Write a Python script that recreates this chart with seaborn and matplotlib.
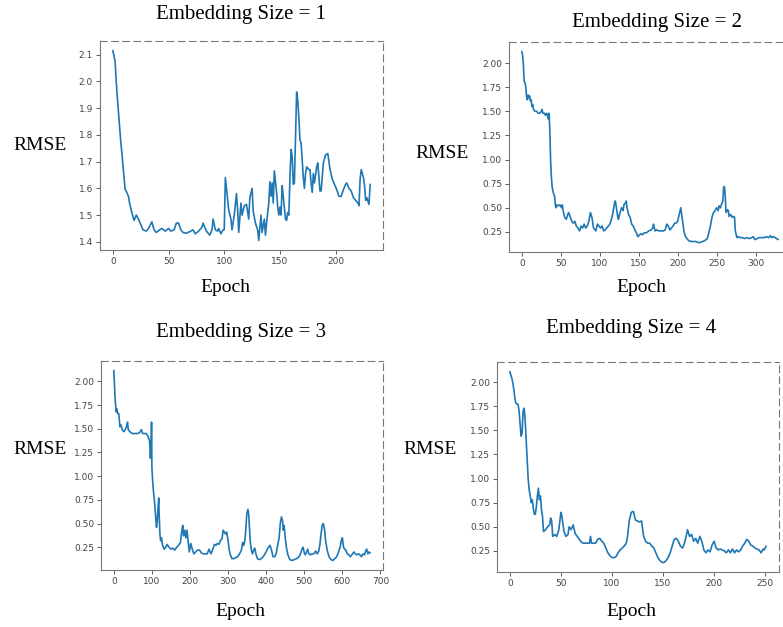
import matplotlib
matplotlib.use("Agg")
import matplotlib.pyplot as plt
import seaborn as sns
import pandas as pd

# ---------------- data ----------------
titles = ["Embedding Size = 1", "Embedding Size = 2", "Embedding Size = 3", "Embedding Size = 4"]

e1_epoch = [0, 2, 3, 4, 6, 7, 9, 10, 11, 12, 14, 15, 17, 19, 20, 21, 23, 25, 27, 30, 32, 35, 37, 39, 42, 44,
            47, 50, 52, 55, 57, 59, 61, 63, 66, 70, 72, 74, 77, 80, 81, 84, 87, 89, 90, 92, 94, 95, 97, 99,
            100, 101, 102, 104, 106, 107, 109, 111, 112, 113, 115, 116, 118, 120, 122, 123, 125, 126, 128,
            130, 131, 132, 133, 134, 136, 137, 138, 140, 141, 142, 143, 144, 145, 147, 148, 149, 150, 151,
            152, 153, 155, 156, 157, 158, 159, 160, 161, 162, 163, 164, 165, 166, 167, 168, 169, 170, 171,
            172, 173, 174, 176, 177, 178, 179, 180, 181, 183, 184, 186, 187, 189, 191, 193, 195, 197, 199,
            201, 203, 205, 207, 209, 210, 212, 214, 216, 218, 220, 221, 222, 223, 225, 226, 227, 228, 230, 231]
e1_rmse = [2.115, 2.075, 2.0, 1.94, 1.83, 1.78, 1.69, 1.64, 1.595, 1.59, 1.57, 1.545, 1.51, 1.48, 1.49, 1.50,
           1.485, 1.465, 1.445, 1.44, 1.45, 1.475, 1.445, 1.435, 1.445, 1.45, 1.44, 1.45, 1.44, 1.445, 1.47,
           1.47, 1.445, 1.435, 1.432, 1.44, 1.445, 1.43, 1.44, 1.455, 1.47, 1.44, 1.425, 1.445, 1.485, 1.445,
           1.44, 1.45, 1.43, 1.445, 1.445, 1.64, 1.60, 1.52, 1.485, 1.445, 1.50, 1.58, 1.52, 1.435, 1.545,
           1.50, 1.535, 1.54, 1.485, 1.565, 1.60, 1.515, 1.47, 1.445, 1.405, 1.455, 1.50, 1.435, 1.485,
           1.425, 1.47, 1.545, 1.625, 1.57, 1.62, 1.545, 1.665, 1.585, 1.53, 1.50, 1.53, 1.50, 1.61, 1.57,
           1.485, 1.48, 1.51, 1.50, 1.64, 1.745, 1.72, 1.615, 1.62, 1.785, 1.96, 1.93, 1.865, 1.78, 1.77,
           1.705, 1.64, 1.60, 1.655, 1.68, 1.67, 1.67, 1.62, 1.585, 1.655, 1.62, 1.68, 1.695, 1.59, 1.59,
           1.695, 1.725, 1.73, 1.67, 1.635, 1.615, 1.595, 1.57, 1.57, 1.595, 1.615, 1.62, 1.60, 1.59, 1.565,
           1.555, 1.545, 1.535, 1.635, 1.67, 1.64, 1.61, 1.555, 1.565, 1.54, 1.615]

e2_epoch = [0, 1, 2, 3, 4, 5, 6, 7, 8, 9, 10, 11, 12, 13, 14, 15, 17, 19, 21, 23, 25, 26, 27, 29, 30, 32, 33,
            34, 35, 36, 37, 38, 39, 40, 41, 42, 43, 44, 45, 47, 49, 51, 52, 53, 55, 57, 59, 60, 62, 64, 66,
            68, 70, 72, 74, 76, 78, 80, 82, 84, 86, 88, 90, 92, 94, 95, 97, 99, 101, 103, 105, 107, 109, 111,
            113, 115, 117, 119, 120, 121, 123, 124, 126, 128, 130, 131, 133, 134, 135, 137, 139, 141, 143,
            145, 147, 149, 151, 153, 155, 157, 160, 163, 166, 168, 169, 171, 173, 176, 179, 182, 184, 186,
            188, 190, 192, 194, 196, 198, 200, 202, 204, 206, 208, 210, 212, 214, 217, 220, 223, 226, 229,
            232, 235, 238, 240, 242, 244, 246, 248, 250, 252, 253, 255, 256, 258, 259, 260, 261, 262, 264,
            265, 266, 268, 270, 272, 273, 274, 276, 278, 280, 283, 286, 289, 292, 295, 297, 299, 302, 305,
            308, 311, 314, 317, 319, 321, 323, 325, 327, 329]
e2_rmse = [2.12, 2.08, 1.99, 1.81, 1.80, 1.76, 1.66, 1.62, 1.67, 1.64, 1.66, 1.61, 1.62, 1.55, 1.57, 1.52,
           1.50, 1.50, 1.48, 1.48, 1.50, 1.52, 1.48, 1.48, 1.46, 1.48, 1.45, 1.42, 1.48, 1.29, 0.98, 0.81,
           0.71, 0.67, 0.64, 0.62, 0.53, 0.50, 0.53, 0.52, 0.53, 0.50, 0.53, 0.47, 0.40, 0.38, 0.43, 0.45,
           0.41, 0.36, 0.34, 0.36, 0.31, 0.29, 0.26, 0.31, 0.29, 0.33, 0.29, 0.31, 0.36, 0.45, 0.40, 0.29,
           0.27, 0.26, 0.33, 0.31, 0.29, 0.31, 0.26, 0.27, 0.29, 0.31, 0.33, 0.38, 0.45, 0.55, 0.57, 0.52,
           0.41, 0.38, 0.45, 0.50, 0.47, 0.53, 0.55, 0.57, 0.50, 0.43, 0.40, 0.33, 0.31, 0.27, 0.24, 0.20,
           0.22, 0.23, 0.22, 0.24, 0.24, 0.26, 0.27, 0.29, 0.33, 0.26, 0.27, 0.26, 0.26, 0.26, 0.27, 0.33,
           0.31, 0.27, 0.29, 0.31, 0.34, 0.34, 0.36, 0.43, 0.50, 0.38, 0.26, 0.20, 0.18, 0.16, 0.15, 0.15,
           0.15, 0.14, 0.14, 0.15, 0.16, 0.18, 0.24, 0.31, 0.40, 0.45, 0.47, 0.50, 0.47, 0.52, 0.50, 0.53,
           0.57, 0.71, 0.72, 0.64, 0.45, 0.48, 0.47, 0.41, 0.43, 0.40, 0.41, 0.40, 0.26, 0.19, 0.20, 0.19,
           0.19, 0.18, 0.19, 0.18, 0.19, 0.20, 0.17, 0.18, 0.19, 0.19, 0.19, 0.20, 0.19, 0.21, 0.19, 0.20,
           0.19, 0.18, 0.17]

e3_epoch = [0, 3, 6, 8, 10, 13, 16, 19, 22, 26, 30, 33, 36, 38, 42, 48, 55, 62, 68, 72, 76, 80, 85, 90, 94,
            96, 98, 99, 100, 102, 104, 106, 108, 110, 112, 114, 116, 118, 119, 121, 123, 125, 128, 132, 136,
            140, 145, 150, 155, 160, 165, 170, 175, 178, 181, 183, 186, 189, 192, 195, 198, 202, 206, 210,
            215, 220, 225, 230, 235, 240, 245, 250, 255, 260, 264, 268, 272, 276, 280, 284, 287, 290, 293,
            296, 300, 303, 306, 310, 315, 320, 325, 330, 335, 338, 341, 344, 346, 349, 352, 354, 356, 358,
            361, 364, 367, 370, 373, 377, 382, 387, 392, 397, 402, 406, 410, 414, 418, 422, 426, 430, 434,
            437, 440, 443, 445, 447, 450, 453, 457, 462, 468, 474, 480, 486, 490, 494, 497, 500, 503, 506,
            509, 512, 516, 520, 525, 530, 534, 538, 541, 544, 547, 550, 553, 556, 560, 565, 570, 575, 580,
            585, 590, 594, 597, 600, 603, 606, 609, 613, 617, 621, 625, 630, 634, 638, 642, 646, 650, 654,
            658, 661, 664, 667, 670, 673]
e3_rmse = [2.115, 1.85, 1.68, 1.71, 1.66, 1.66, 1.52, 1.54, 1.49, 1.47, 1.49, 1.52, 1.57, 1.49, 1.47, 1.45,
           1.45, 1.45, 1.46, 1.49, 1.45, 1.45, 1.45, 1.42, 1.37, 1.19, 1.30, 1.57, 1.09, 0.95, 0.84, 0.77,
           0.67, 0.57, 0.46, 0.53, 0.67, 0.77, 0.60, 0.39, 0.32, 0.35, 0.27, 0.23, 0.25, 0.28, 0.25, 0.23,
           0.24, 0.22, 0.25, 0.27, 0.30, 0.41, 0.48, 0.37, 0.43, 0.35, 0.43, 0.32, 0.20, 0.29, 0.23, 0.18,
           0.20, 0.22, 0.22, 0.19, 0.18, 0.18, 0.18, 0.23, 0.18, 0.23, 0.28, 0.27, 0.29, 0.28, 0.32, 0.34,
           0.43, 0.41, 0.39, 0.41, 0.32, 0.22, 0.17, 0.13, 0.13, 0.14, 0.15, 0.18, 0.22, 0.30, 0.27, 0.32,
           0.41, 0.60, 0.65, 0.60, 0.46, 0.32, 0.22, 0.18, 0.22, 0.24, 0.18, 0.13, 0.12, 0.13, 0.15, 0.18,
           0.22, 0.25, 0.27, 0.22, 0.15, 0.15, 0.18, 0.27, 0.35, 0.50, 0.57, 0.53, 0.43, 0.48, 0.35, 0.25,
           0.17, 0.12, 0.11, 0.12, 0.13, 0.15, 0.18, 0.23, 0.25, 0.19, 0.17, 0.20, 0.23, 0.18, 0.17, 0.18,
           0.18, 0.21, 0.18, 0.21, 0.28, 0.39, 0.48, 0.50, 0.44, 0.32, 0.22, 0.15, 0.12, 0.11, 0.13, 0.15,
           0.20, 0.25, 0.32, 0.35, 0.25, 0.23, 0.22, 0.18, 0.17, 0.15, 0.17, 0.20, 0.18, 0.17, 0.18, 0.17,
           0.15, 0.18, 0.17, 0.21, 0.23, 0.18, 0.20, 0.19]

e4_epoch = [0, 2, 3, 4, 5, 6, 8, 9, 10, 11, 12, 13, 14, 15, 16, 17, 18, 19, 20, 21, 22, 23, 24, 25, 26, 27,
            28, 29, 30, 31, 32, 33, 35, 37, 39, 40, 41, 42, 44, 46, 48, 50, 51, 53, 55, 57, 58, 60, 62, 64,
            66, 68, 70, 72, 74, 76, 78, 79, 80, 82, 84, 86, 88, 90, 92, 94, 96, 98, 100, 102, 104, 106, 108,
            110, 112, 114, 115, 117, 119, 121, 123, 125, 127, 129, 131, 133, 135, 137, 139, 141, 143, 145,
            147, 149, 151, 153, 155, 157, 159, 161, 163, 165, 167, 169, 170, 172, 174, 176, 178, 180, 182,
            184, 186, 188, 190, 192, 194, 196, 198, 200, 202, 204, 206, 208, 210, 212, 214, 216, 218, 220,
            222, 224, 226, 228, 230, 232, 234, 236, 238, 240, 242, 244, 246, 248, 249, 251]
e4_rmse = [2.11, 2.04, 1.99, 1.92, 1.83, 1.78, 1.77, 1.71, 1.58, 1.44, 1.47, 1.70, 1.73, 1.61, 1.40, 1.20,
           0.99, 0.88, 0.82, 0.75, 0.78, 0.69, 0.63, 0.63, 0.71, 0.82, 0.90, 0.78, 0.82, 0.68, 0.61, 0.45,
           0.47, 0.50, 0.52, 0.59, 0.56, 0.40, 0.42, 0.40, 0.47, 0.65, 0.61, 0.45, 0.40, 0.42, 0.50, 0.47,
           0.52, 0.43, 0.40, 0.37, 0.34, 0.33, 0.33, 0.33, 0.33, 0.40, 0.33, 0.33, 0.33, 0.37, 0.38, 0.35,
           0.33, 0.28, 0.23, 0.20, 0.18, 0.18, 0.19, 0.23, 0.26, 0.28, 0.30, 0.33, 0.38, 0.57, 0.65, 0.66,
           0.57, 0.56, 0.55, 0.56, 0.40, 0.35, 0.33, 0.33, 0.30, 0.28, 0.23, 0.18, 0.15, 0.13, 0.13, 0.15,
           0.18, 0.23, 0.30, 0.37, 0.38, 0.35, 0.30, 0.28, 0.30, 0.37, 0.47, 0.40, 0.42, 0.35, 0.38, 0.33,
           0.40, 0.35, 0.26, 0.23, 0.26, 0.24, 0.31, 0.35, 0.28, 0.26, 0.27, 0.26, 0.25, 0.23, 0.26, 0.23,
           0.27, 0.23, 0.26, 0.24, 0.26, 0.30, 0.33, 0.37, 0.35, 0.31, 0.30, 0.28, 0.27, 0.26, 0.23, 0.27,
           0.26, 0.30]

epochs = [e1_epoch, e2_epoch, e3_epoch, e4_epoch]
rmses = [e1_rmse, e2_rmse, e3_rmse, e4_rmse]
xticks = [[0, 50, 100, 150, 200], [0, 50, 100, 150, 200, 250, 300],
          [0, 100, 200, 300, 400, 500, 600, 700], [0, 50, 100, 150, 200, 250]]
yticks = [[1.4, 1.5, 1.6, 1.7, 1.8, 1.9, 2.0, 2.1],
          [0.25, 0.50, 0.75, 1.00, 1.25, 1.50, 1.75, 2.00],
          [0.25, 0.50, 0.75, 1.00, 1.25, 1.50, 1.75, 2.00],
          [0.25, 0.50, 0.75, 1.00, 1.25, 1.50, 1.75, 2.00]]

# ---------------- layout ----------------
W, H = 783, 627
sns.set_theme(style="ticks")
plt.rcParams["font.family"] = ["DejaVu Sans"]
fig = plt.figure(figsize=(W / 100, H / 100), dpi=100)

def box(l, t, r, b):
    return [l / W, 1 - b / H, (r - l) / W, (b - t) / H]

axes_px = [(100, 41, 383, 250), (509, 42, 791, 252), (101, 361, 383, 570), (497, 362, 779, 572)]
title_pos = [(241, 15), (657, 22), (241, 333), (631, 329)]
ylab_pos = [(40, 146), (442, 153), (40, 450), (430, 450)]
xlab_pos = [(225, 288), (641, 288), (240, 612), (631, 612)]

serif = ["Liberation Serif", "DejaVu Serif"]

for i in range(4):
    ax = fig.add_axes(box(*axes_px[i]))
    df = pd.DataFrame({"Epoch": epochs[i], "RMSE": rmses[i]})
    sns.lineplot(data=df, x="Epoch", y="RMSE", ax=ax, color="#1f77b4", linewidth=1.2)
    ax.set_xlabel("")
    ax.set_ylabel("")
    ax.set_xticks(xticks[i])
    ax.set_yticks(yticks[i])
    ax.margins(x=0.05, y=0.05)
    ax.tick_params(labelsize=6.5, colors="#444444", length=3, width=0.6, pad=2)
    for s in ["left", "bottom", "right", "top"]:
        ax.spines[s].set_visible(True)
        ax.spines[s].set_color("#777777")
        ax.spines[s].set_linewidth(0.8)
    ax.spines["top"].set_linestyle((0, (6, 4)))
    ax.spines["right"].set_linestyle((0, (6, 4)))

    fig.text(title_pos[i][0] / W, 1 - title_pos[i][1] / H, titles[i], ha="center", va="center",
             fontsize=15, family=serif, color="black")
    fig.text(ylab_pos[i][0] / W, 1 - ylab_pos[i][1] / H, "RMSE", ha="center", va="center",
             fontsize=14, family=serif, color="black")
    fig.text(xlab_pos[i][0] / W, 1 - xlab_pos[i][1] / H, "Epoch", ha="center", va="center",
             fontsize=14, family=serif, color="black")

fig.savefig("out.png", dpi=100)
